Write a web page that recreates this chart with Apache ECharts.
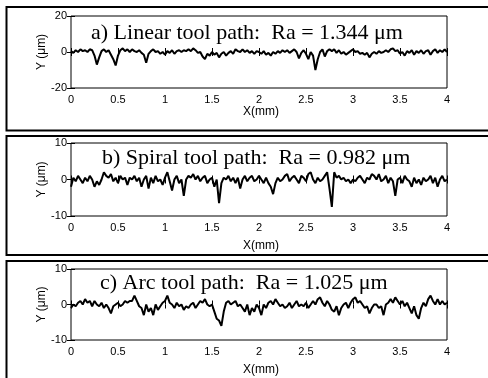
<!DOCTYPE html>
<html><head><meta charset="utf-8">
<script src="https://cdn.jsdelivr.net/npm/echarts@6/dist/echarts.min.js"></script>
<style>html,body{margin:0;padding:0;background:#fff}#c{width:488px;height:378px}</style>
</head><body><div id="c"></div>
<script>
const panelTitles = ["a) Linear tool path:  Ra = 1.344 \u03bcm", "b) Spiral tool path:  Ra = 0.982 \u03bcm", "c) Arc tool path:  Ra = 1.025 \u03bcm"];
const xAxisName = "X(mm)";
const yAxisName = "Y (\u03bcm)";
const xMin = 0, xMax = 4, xInterval = 0.5;
const yRanges = [[-20, 20, 20], [-10, 10, 10], [-10, 10, 10]];
const xStep = 0.025;
const linearY = [
 0.5,-0.5,1,0,1.5,0.5,1,0,1.5,1,
 -2,-7,-3,0.5,1.5,0,1,-1.5,-4,-7.5,
 -2,1,2,0.5,1.5,0,1.5,0.5,0,1,
 -0.5,-1.5,-6,-1,0.5,1.5,0,0.5,-1,0,
 -1.5,0.5,-0.5,1,-1,0.5,1,0,1,0.5,
 1.5,0.5,2,1,-0.5,0,-2.5,-4,-1,-2,
 0,-1.5,-0.5,-3,-1,0,-2,-0.5,0.5,-1,
 1.5,0.5,0,1.5,0,1,-0.5,0.5,-1,0.5,
 0,-1,0.5,-1.5,-0.5,-2,0,-1,0.5,-0.5,
 1,0,1,-0.5,0.5,1.5,0,-3.5,-0.5,1,
 -1,-4,0,-2,-10,-4,0,1.5,-2.5,0.5,
 1.5,0.5,1.5,-0.5,1,-1,0,-1.5,-0.5,0.5,
 1.5,0,0.5,-1,-0.5,-1.5,-0.5,-3,-1,0,
 -1,0.5,-0.5,0,1,0,1.5,2,0.5,1,
 -1,0,-2,0.5,-0.5,1,-1.5,0.5,-0.5,1,
 -1,0.5,1,-1.5,0.5,1.5,-0.5,1,0,1.5,
 0];
const spiralY = [
 -2,0.5,-0.5,1,0,-1,0.5,-0.5,1,0,
 -2,-0.5,-1.5,0,2,1,0.5,1.5,-0.5,0.5,
 -1,1,0,0.5,-1.5,0.5,0,1,-0.5,0.5,
 -2,0,1,-2.5,0.5,-1,1,-0.5,0,-1.5,
 0.5,2,-0.5,-3,0,1,-1,0,-4.5,0,
 1,0.5,1.5,0,1,-0.5,0.5,1,-1,0,
 0.5,-2,0,-6.5,-1,0.5,0,1,-0.5,0.5,
 -1,0.5,-2.5,0,1,-0.5,0.5,1,-0.5,0,
 1,0,-1,0.5,-1,-2,-4,-1,0.5,-0.5,
 0,1,1.5,-0.5,0.5,1,0,-1,1,0.5,
 -0.5,1.5,2,0,-1,0.5,-0.5,0,1,2,
 -2.5,-7.5,2,0.5,1,0,0.5,-0.5,0,-1,
 0,-0.5,0.5,1,0,-1,0.5,0,1.5,1,
 0,1.5,-0.5,0,1,-1,0.5,-0.5,-4.5,0,
 0.5,-1,1,0,-0.5,-2,0.5,-1,0,-1.5,
 0.5,-0.5,0,1,-1,0.5,-2,0,1,-0.5,
 0];
const arcY = [
 -1,0,-0.5,0.5,1,0,1.5,0.5,1,-0.5,
 1,0,-0.5,0.5,-1,0,-1,-2.5,-0.5,0,
 0.5,-0.5,0,1,0.5,1,1,2.5,1,-0.5,
 -1,-3,0,-2,-1,-3,0,-1.5,-0.5,0.5,
 1,2.5,0.5,0,-1,0.5,-0.5,0,-1.5,-0.5,
 -1,0,0.5,-1,0,1,0.5,1.5,0,-0.5,
 0,-2,-4,-4.5,-6,-2,0.5,1,0,0.5,
 1,-0.5,0,-1,-2,0,-3,-1,-2,0,
 -1,-3,0,-1,0.5,1,0,1.5,0.5,-0.5,
 0,-1,-0.5,0.5,-1,0,1,-0.5,0,-0.5,
 0.5,-1,0,1,0,1.5,2,0.5,-0.5,1,
 0,-1.5,-2,-0.5,-3,-1,0,0.5,-1,0.5,
 1.5,2,0.5,1,0,-1,-0.5,-2.5,-1,0,
 0,-1,-0.5,-3,0,0.5,1.5,0.5,2,1,
 0,1,-0.5,0.5,-1,-2.5,-0.5,-3,-4,-1,
 0.5,-0.5,1.5,2.5,1,0,1.5,0,1,0,
 0.5];
const seriesValues = [linearY, spiralY, arcY];

const grids = [
  {left: 71, top: 16, width: 376, height: 72},
  {left: 71, top: 143, width: 376, height: 73},
  {left: 71, top: 269, width: 376, height: 71}
];
const titlePos = [[91, 35], [102, 160], [100, 285]];
const xNamePos = [113, 247, 371];
const boxes = [[6.5, 7, 520, 123.5], [6.5, 136, 520, 119], [6.5, 261, 520, 140]];

const labelFont = {fontFamily: "'Liberation Sans Narrow','Arial Narrow','Liberation Sans',Arial,sans-serif", fontSize: 11, color: '#000'};
const nameFont = {fontFamily: "'Liberation Sans',Arial,sans-serif", fontSize: 12, color: '#000'};
const xAxes = [], yAxes = [], series = [], graphics = [];
grids.forEach((g, i) => {
  g.show = true; g.borderColor = '#000'; g.borderWidth = 1; g.backgroundColor = 'transparent';
  const common = {gridIndex: i, type: 'value', min: xMin, max: xMax, interval: xInterval,
    axisLine: {show: false}, splitLine: {show: false},
    axisTick: {show: true, inside: true, length: 4, lineStyle: {color: '#000'}}};
  xAxes.push(Object.assign({}, common, {position: 'bottom', axisLabel: Object.assign({margin: 6}, labelFont)}));
  xAxes.push(Object.assign({}, common, {position: 'top', axisLabel: {show: false}}));
  const [ymin, ymax, yint] = yRanges[i];
  const ycommon = {gridIndex: i, type: 'value', min: ymin, max: ymax, interval: yint,
    axisLine: {show: false}, splitLine: {show: false},
    axisTick: {show: true, inside: true, length: 4, lineStyle: {color: '#000'}}};
  yAxes.push(Object.assign({}, ycommon, {position: 'left', axisLabel: Object.assign({margin: 4}, labelFont),
    name: yAxisName, nameLocation: 'middle', nameGap: 23, nameRotate: 90, nameMoveOverlap: false,
    nameTextStyle: Object.assign({}, nameFont)}));
  yAxes.push(Object.assign({}, ycommon, {position: 'right', axisLabel: {show: false}}));
  series.push({type: 'line', xAxisIndex: i * 2, yAxisIndex: i * 2, showSymbol: false, animation: false,
    lineStyle: {color: '#000', width: 2}, itemStyle: {color: '#000'},
    data: seriesValues[i].map((v, k) => [k * xStep, v])});
  graphics.push({type: 'rect', shape: {x: boxes[i][0], y: boxes[i][1], width: boxes[i][2], height: boxes[i][3]},
    style: {fill: 'none', stroke: '#000', lineWidth: 2}, z: 100});
  graphics.push({type: 'text', left: titlePos[i][0], top: titlePos[i][1] - 13,
    style: {text: panelTitles[i], fill: '#000', font: "22px 'Liberation Serif','DejaVu Serif',serif"}, z: 100});
  graphics.push({type: 'text', left: 243, top: xNamePos[i] - 7,
    style: {text: xAxisName, fill: '#000', font: "12px 'Liberation Sans',Arial,sans-serif"}, z: 100});
});

const chart = echarts.init(document.getElementById('c'), null, {renderer: 'canvas'});
chart.setOption({animation: false, backgroundColor: '#fff', grid: grids, xAxis: xAxes, yAxis: yAxes, series: series, graphic: graphics});
</script></body></html>
